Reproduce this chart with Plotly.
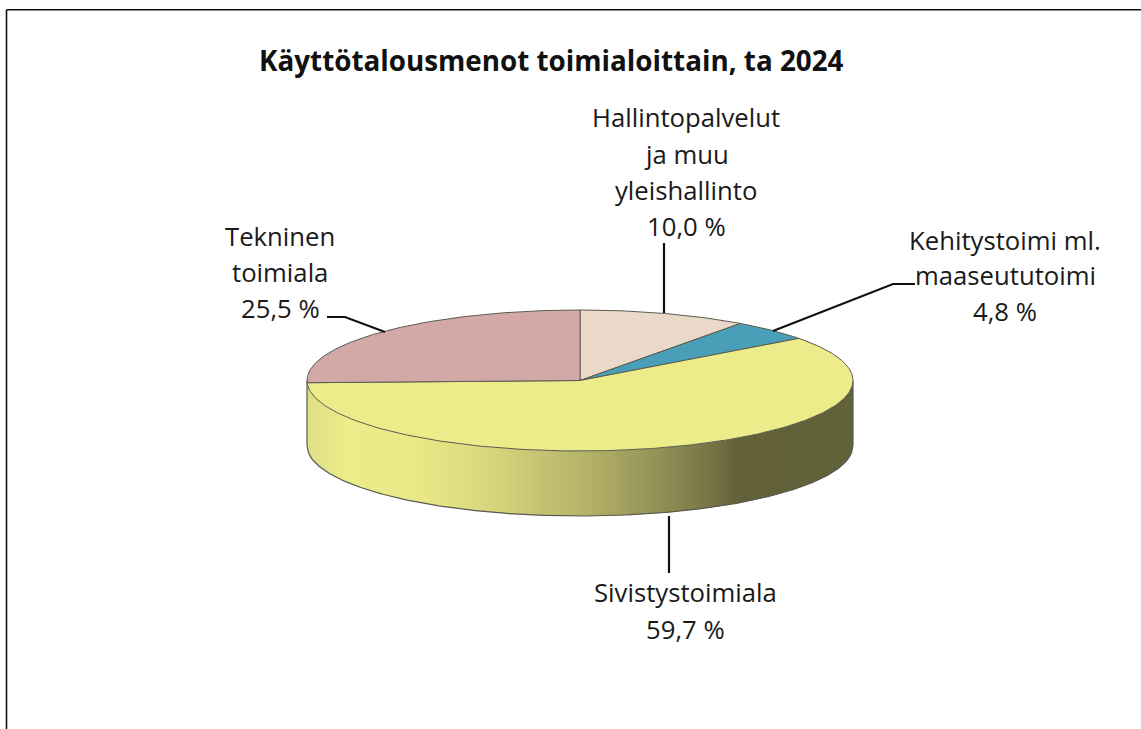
import math
import plotly.graph_objects as go

W, H = 1141, 729
title = "Käyttötalousmenot toimialoittain, ta 2024"
categories = ["Hallintopalvelut ja muu yleishallinto", "Kehitystoimi ml. maaseututoimi", "Sivistystoimiala", "Tekninen toimiala"]
values = [10.0, 4.8, 59.7, 25.5]
colors = ["#EAD8C9", "#4A9FB8", "#ECEC8A", "#D3A9A7"]
percent_labels = ["10,0 %", "4,8 %", "59,7 %", "25,5 %"]

# geometry (pixels)
CX, CY, RX, RY, DEPTH = 580, 380.5, 273, 70.5, 65
FONT = "Open Sans"
EDGE = "#5a5a50"


def X(px):
    return (px - CX) / RX


def Y(py):
    return (CY - py) / RY


D = DEPTH / RY
fig = go.Figure()


def pt(frac):
    a = 2 * math.pi * frac
    return math.sin(a), math.cos(a)


# side wall gradient: (horizontal unit position, colour)
stops = [(-1.0, (224, 222, 134)), (-0.85, (236, 236, 138)), (-0.6, (234, 233, 136)), (-0.35, (218, 216, 126)),
         (0.0, (183, 181, 106)), (0.3, (146, 144, 86)), (0.47, (120, 118, 70)), (0.58, (98, 97, 58)), (1.0, (98, 98, 58))]


def grad(x):
    for (x0, c0), (x1, c1) in zip(stops, stops[1:]):
        if x <= x1:
            t = (x - x0) / (x1 - x0)
            return "rgb(%d,%d,%d)" % tuple(round(a + (b - a) * t) for a, b in zip(c0, c1))
    return "rgb(98,98,58)"


N = 270
for i in range(N):
    x0 = -1 + 2 * i / N
    x1 = -1 + 2 * (i + 1.6) / N
    x1 = min(x1, 1)
    y0 = -math.sqrt(max(0, 1 - x0 * x0))
    y1 = -math.sqrt(max(0, 1 - x1 * x1))
    fig.add_trace(go.Scatter(x=[x0, x1, x1, x0, x0], y=[y0, y1, y1 - D, y0 - D, y0], mode="lines",
                             line=dict(width=0), fill="toself", fillcolor=grad((x0 + x1) / 2),
                             hoverinfo="skip", showlegend=False))

# side wall outline
xs = [-1 + 2 * i / 360 for i in range(361)]
lx = [-1] + xs + [1]
ly = [0] + [-math.sqrt(max(0, 1 - v * v)) - D for v in xs] + [0]
fig.add_trace(go.Scatter(x=lx, y=ly, mode="lines", line=dict(color=EDGE, width=1.2), hoverinfo="skip", showlegend=False))

# top slices
total = sum(values)
cum = 0
for name, v, c in zip(categories, values, colors):
    steps = max(8, int(v * 5))
    px_, py_ = [0], [0]
    for k in range(steps + 1):
        x, y = pt((cum + v * k / steps) / total)
        px_.append(x)
        py_.append(y)
    px_.append(0)
    py_.append(0)
    fig.add_trace(go.Scatter(x=px_, y=py_, mode="lines", name=name, line=dict(color=EDGE, width=1), fill="toself",
                             fillcolor=c, hoverinfo="name", showlegend=False))
    cum += v

# leader lines
leaders = [
    [(664, 243), (664, 313)],
    [(773, 331), (893, 284), (915, 284)],
    [(669, 516), (669, 573)],
    [(327, 317), (345, 317), (385, 332)],
]
for pts in leaders:
    fig.add_trace(go.Scatter(x=[X(p[0]) for p in pts], y=[Y(p[1]) for p in pts], mode="lines",
                             line=dict(color="#111111", width=2.2), hoverinfo="skip", showlegend=False))

# text lines: text, centre x, centre y
texts = [
    ("Hallintopalvelut", 686, 117), ("ja muu", 686, 154), ("yleishallinto", 686, 190), (percent_labels[0], 686, 226),
    ("Kehitystoimi ml.", 1005, 240), ("maaseututoimi", 1005, 275), (percent_labels[1], 1005, 311),
    ("Sivistystoimiala", 685, 592), (percent_labels[2], 685, 629),
    ("Tekninen", 280, 236), ("toimiala", 280, 272), (percent_labels[3], 280, 309),
]
annotations = [dict(x=tx / W, y=1 - ty / H, xref="paper", yref="paper", text=t, showarrow=False,
                    xanchor="center", yanchor="middle", font=dict(family=FONT, size=25.7, color="#1a1a1a"))
               for t, tx, ty in texts]
annotations.append(dict(x=551 / W, y=1 - 60 / H, xref="paper", yref="paper", text="<b>" + title + "</b>", showarrow=False,
                        xanchor="center", yanchor="middle", font=dict(family=FONT, size=27.8, color="#111111")))

# outer frame (top and left edges only)
shapes = [
    dict(type="line", xref="paper", yref="paper", x0=6.5 / W, x1=1, y0=1 - 9.8 / H, y1=1 - 9.8 / H, line=dict(color="#111111", width=1.6)),
    dict(type="line", xref="paper", yref="paper", x0=6.5 / W, x1=6.5 / W, y0=1 - 9.8 / H, y1=0, line=dict(color="#111111", width=1.6)),
]

fig.update_layout(
    width=W, height=H, autosize=False, margin=dict(l=0, r=0, t=0, b=0), paper_bgcolor="white", plot_bgcolor="white",
    xaxis=dict(range=[X(0), X(W)], visible=False, fixedrange=True),
    yaxis=dict(range=[Y(H), Y(0)], visible=False, fixedrange=True),
    annotations=annotations, shapes=shapes, showlegend=False,
)
fig.write_html("out.html", config=dict(displayModeBar=False),
               post_script="document.body.style.margin='0';document.body.style.overflow='hidden';")
